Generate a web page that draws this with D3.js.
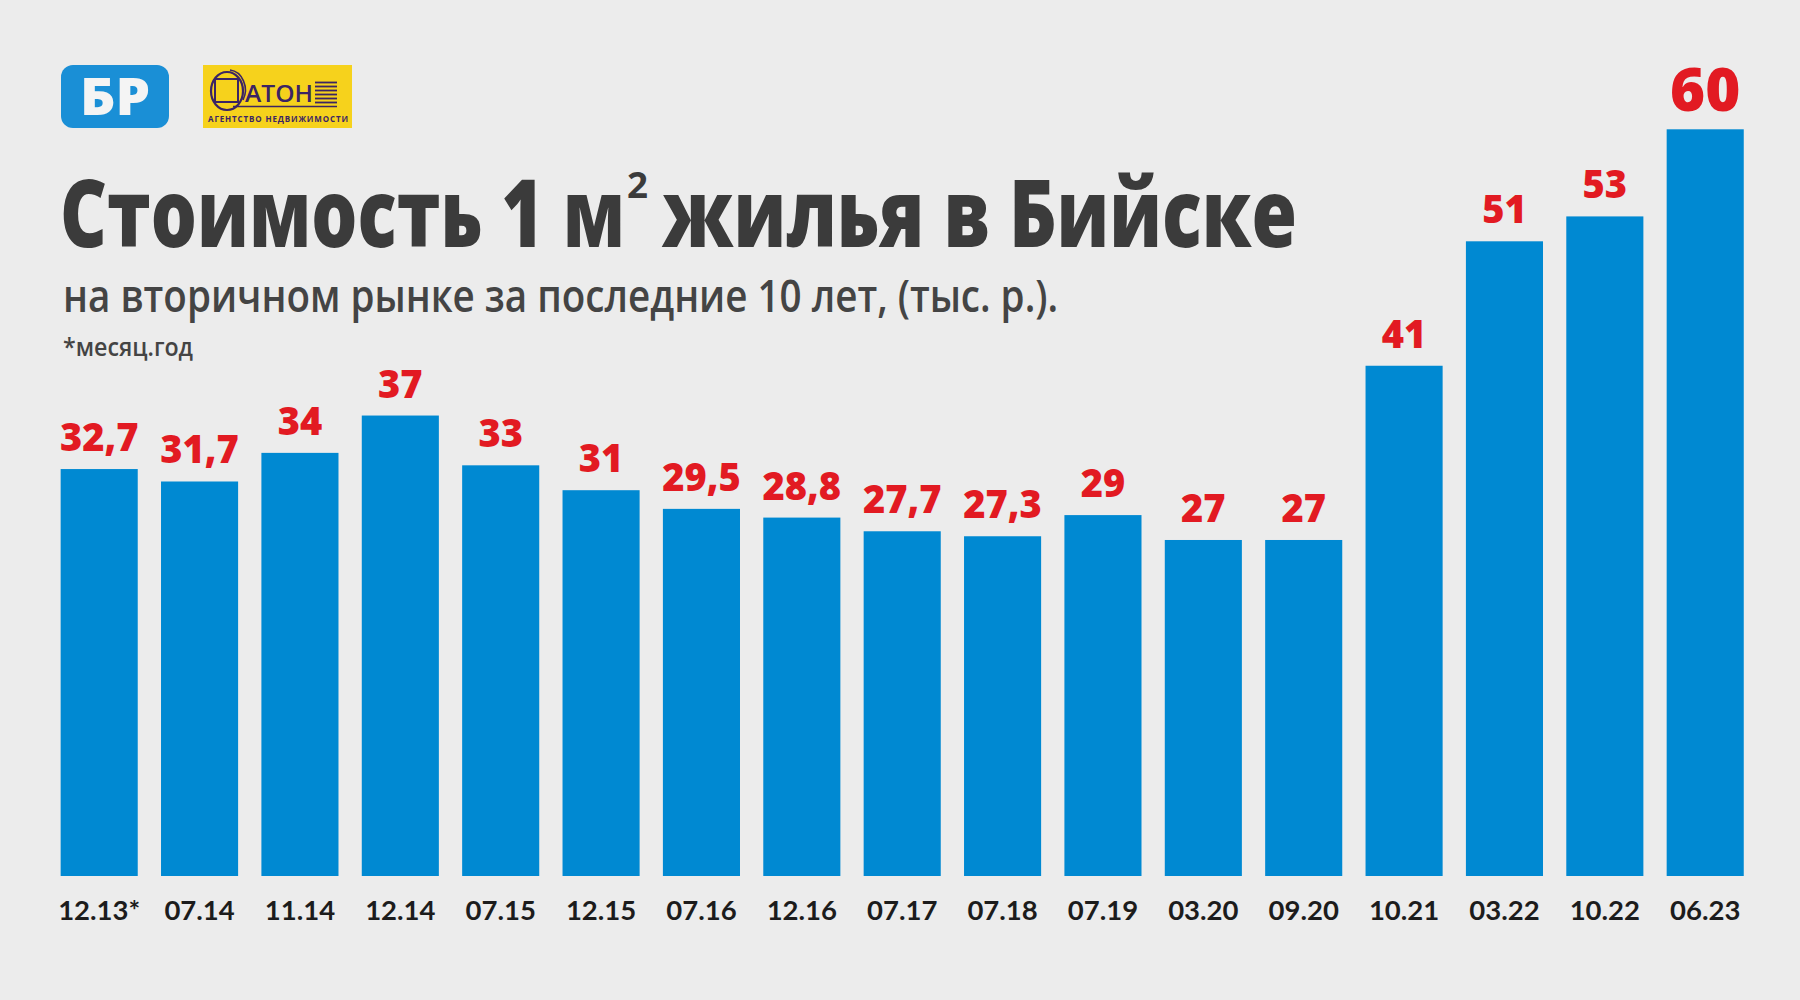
<!DOCTYPE html>
<html>
<head>
<meta charset="utf-8">
<script src="https://cdn.jsdelivr.net/npm/d3@7"></script>
<style>
  html, body { margin: 0; padding: 0; background: #ececec; }
  svg { display: block; }
</style>
</head>
<body>
<svg id="chart" width="1800" height="1000"></svg>
<script>
// ---- Data ----
const categories = ["12.13*", "07.14", "11.14", "12.14", "07.15", "12.15", "07.16", "12.16", "07.17", "07.18", "07.19", "03.20", "09.20", "10.21", "03.22", "10.22", "06.23"];
const values = [32.7, 31.7, 34, 37, 33, 31, 29.5, 28.8, 27.7, 27.3, 29, 27, 27, 41, 51, 53, 60];
const titleParts = ["Стоимость 1 м", "2", "жилья в Бийске"];
const subtitle = "на вторичном рынке за последние 10 лет, (тыс. р.).";
const footnote = "*месяц.год";

// ---- Drawing ----
const svg = d3.select("#chart");
svg.append("rect").attr("width", 1800).attr("height", 1000).attr("fill", "#ececec");

const x = d3.scaleBand()
  .domain(categories)
  .range([49, 1755.4])
  .paddingInner(0.232)
  .paddingOuter(0.116);

const y = d3.scaleLinear().domain([0, 60]).range([876, 129.3]);

const fmt = v => d3.format("~g")(v).replace(".", ",");

// bars
svg.append("g").selectAll("rect")
  .data(values)
  .join("rect")
  .attr("x", (d, i) => x(categories[i]))
  .attr("y", d => y(d))
  .attr("width", x.bandwidth())
  .attr("height", d => y(0) - y(d))
  .attr("fill", "#0089d2");

// value labels
const maxV = d3.max(values);
svg.append("g").selectAll("text")
  .data(values)
  .join("text")
  .attr("x", (d, i) => x(categories[i]) + x.bandwidth() / 2)
  .attr("y", d => y(d) - 18)
  .attr("text-anchor", "middle")
  .attr("font-family", "'Open Sans', sans-serif")
  .attr("font-weight", 800)
  .attr("font-size", d => d === maxV ? 60 : 38)
  .attr("fill", "#e21a22")
  .text(d => fmt(d));

// category axis labels
const xAxis = d3.axisBottom(x).tickSize(0).tickPadding(0);
const gx = svg.append("g").attr("transform", "translate(0,900)").call(xAxis);
gx.select(".domain").remove();
gx.selectAll("text")
  .attr("font-family", "Lato, sans-serif")
  .attr("font-weight", 700)
  .attr("font-size", 27.5)
  .attr("fill", "#1c1c1c")
  .attr("dy", "0.71em");

// ---- Title ----
const titleFont = "'Open Sans', sans-serif";
const title = svg.append("text")
  .attr("font-family", titleFont).attr("font-weight", 800)
  .attr("fill", "#3b3b3b");
title.append("tspan")
  .attr("x", 60).attr("y", 247).attr("font-size", 94)
  .attr("textLength", 565).attr("lengthAdjust", "spacingAndGlyphs")
  .text(titleParts[0]);
title.append("tspan")
  .attr("x", 627).attr("y", 198).attr("font-size", 36).attr("font-weight", 700)
  .attr("textLength", 21).attr("lengthAdjust", "spacingAndGlyphs")
  .text(titleParts[1]);
title.append("tspan")
  .attr("x", 662).attr("y", 247).attr("font-size", 94)
  .attr("textLength", 635).attr("lengthAdjust", "spacingAndGlyphs")
  .text(titleParts[2]);

svg.append("text")
  .attr("x", 63).attr("y", 312)
  .attr("font-family", titleFont).attr("font-weight", 600)
  .attr("font-size", 46).attr("fill", "#444")
  .attr("textLength", 995).attr("lengthAdjust", "spacingAndGlyphs")
  .text(subtitle);

svg.append("text")
  .attr("x", 63).attr("y", 356)
  .attr("font-family", titleFont).attr("font-weight", 600)
  .attr("font-size", 26).attr("fill", "#444")
  .attr("textLength", 130).attr("lengthAdjust", "spacingAndGlyphs")
  .text(footnote);

// ---- Logos ----
const br = svg.append("g");
br.append("rect").attr("x", 61).attr("y", 65).attr("width", 108).attr("height", 63)
  .attr("rx", 12).attr("fill", "#1a8fd6");
br.append("text").attr("x", 115).attr("y", 115).attr("text-anchor", "middle")
  .attr("font-family", "'Open Sans', sans-serif").attr("font-weight", 800)
  .attr("font-size", 52).attr("fill", "#f4f4f4")
  .attr("textLength", 70).attr("lengthAdjust", "spacingAndGlyphs")
  .text("БР");

const ft = svg.append("g");
ft.append("rect").attr("x", 203).attr("y", 65).attr("width", 149).attr("height", 63).attr("fill", "#f6d21c");
const ink = "#3b2464";
ft.append("ellipse").attr("cx", 227).attr("cy", 91).attr("rx", 16).attr("ry", 19)
  .attr("fill", "none").attr("stroke", ink).attr("stroke-width", 2.2);
ft.append("path").attr("d", "M 230 70 A 17 20 0 0 1 243 100")
  .attr("fill", "none").attr("stroke", ink).attr("stroke-width", 1.6);
ft.append("rect").attr("x", 215).attr("y", 79).attr("width", 23).attr("height", 23)
  .attr("fill", "none").attr("stroke", ink).attr("stroke-width", 2);
ft.append("text").attr("x", 245).attr("y", 102)
  .attr("font-family", "'Open Sans', sans-serif").attr("font-weight", 600)
  .attr("font-size", 24).attr("fill", ink)
  .attr("textLength", 68).attr("lengthAdjust", "spacingAndGlyphs")
  .text("АТОН");
ft.append("line").attr("x1", 233).attr("x2", 337).attr("y1", 106.5).attr("y2", 106.5)
  .attr("stroke", ink).attr("stroke-width", 1.6);
[82.5, 86.5, 90.5, 94.5, 98.5, 102.5].forEach(yy => {
  ft.append("line").attr("x1", 315).attr("x2", 337).attr("y1", yy).attr("y2", yy)
    .attr("stroke", ink).attr("stroke-width", 1.8);
});
ft.append("text").attr("x", 208).attr("y", 122)
  .attr("font-family", "'Open Sans', sans-serif").attr("font-weight", 700)
  .attr("font-size", 8).attr("fill", ink)
  .attr("textLength", 140).attr("lengthAdjust", "spacing")
  .text("АГЕНТСТВО НЕДВИЖИМОСТИ");
</script>
</body>
</html>
